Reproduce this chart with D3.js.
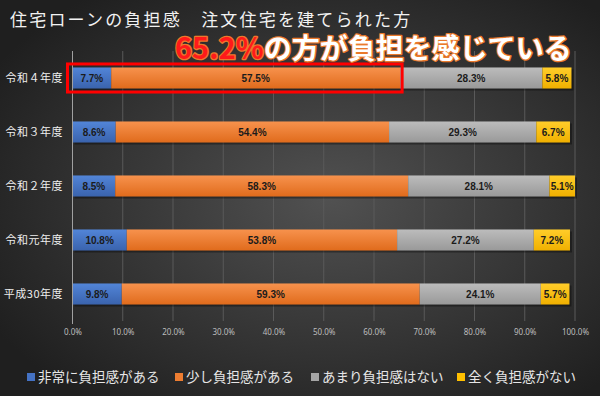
<!DOCTYPE html>
<html>
<head>
<meta charset="utf-8">
<script src="https://cdn.jsdelivr.net/npm/d3@7"></script>
<style>
  body { margin: 0; background: #222; }
  text { font-family: "Noto Sans CJK JP", "Noto Sans", sans-serif; }
</style>
</head>
<body>
<div id="chart"></div>
<script>
// data
var categories = ["令和４年度", "令和３年度", "令和２年度", "令和元年度", "平成30年度"];
var seriesNames = ["非常に負担感がある", "少し負担感がある", "あまり負担感はない", "全く負担感がない"];
var veryBurden   = [7.7, 8.6, 8.5, 10.8, 9.8];
var someBurden   = [57.5, 54.4, 58.3, 53.8, 59.3];
var littleBurden = [28.3, 29.3, 28.1, 27.2, 24.1];
var noBurden     = [5.8, 6.7, 5.1, 7.2, 5.7];
var xTicks = [0, 10, 20, 30, 40, 50, 60, 70, 80, 90, 100];
var titleText = "住宅ローンの負担感　注文住宅を建てられた方";
var headlineSuffix = "の方が負担を感じている";

var width = 600, height = 396;
var colors = ["#4472c4", "#ed7d31", "#a5a5a5", "#ffc000"];
var colorsLight = ["#5285d8", "#f7924d", "#bcbcbc", "#ffcd2a"];
var colorsDark = ["#3a63ad", "#e06b1c", "#999999", "#f0b000"];

var svg = d3.select("#chart").append("svg")
  .attr("width", width)
  .attr("height", height);

var defs = svg.append("defs");
var bg = defs.append("radialGradient").attr("id", "bg")
  .attr("cx", "55%").attr("cy", "50%").attr("r", "65%");
bg.append("stop").attr("offset", "0%").attr("stop-color", "#515151");
bg.append("stop").attr("offset", "100%").attr("stop-color", "#1f1f1f");

colors.forEach(function(c, i) {
  var g = defs.append("linearGradient").attr("id", "bar" + i)
    .attr("x1", 0).attr("y1", 0).attr("x2", 0).attr("y2", 1);
  g.append("stop").attr("offset", "0%").attr("stop-color", colorsLight[i]);
  g.append("stop").attr("offset", "100%").attr("stop-color", colorsDark[i]);
});

svg.append("rect")
  .attr("width", width).attr("height", height)
  .attr("fill", "url(#bg)");

// title
svg.append("text")
  .attr("x", 10).attr("y", 26)
  .attr("fill", "#f2f2f2")
  .attr("font-size", 17)
  .attr("letter-spacing", 2.2)
  .text(titleText);

var x = d3.scaleLinear().domain([0, 100]).range([72.5, 575]);
var y = d3.scaleBand().domain(categories)
  .range([51, 321]).paddingInner(0.61).paddingOuter(0.305);

// gridlines
svg.append("g").selectAll("line")
  .data(xTicks.slice(1))
  .join("line")
  .attr("x1", function(d) { return x(d); })
  .attr("x2", function(d) { return x(d); })
  .attr("y1", 51).attr("y2", 321)
  .attr("stroke", "#5a5a5a").attr("stroke-width", 1);

// x axis labels
var xAxis = svg.append("g")
  .attr("transform", "translate(0,321)")
  .call(d3.axisBottom(x).tickValues(xTicks)
    .tickFormat(function(d) { return d.toFixed(1) + "%"; })
    .tickSize(0).tickPadding(8));
xAxis.select(".domain").remove();
xAxis.selectAll("text")
  .attr("fill", "#bdbdbd")
  .attr("font-size", 8)
  .style("font-family", "'Noto Sans', sans-serif");

// stacked data
var rows = categories.map(function(c, i) {
  return { cat: c, v0: veryBurden[i], v1: someBurden[i], v2: littleBurden[i], v3: noBurden[i] };
});
var stack = d3.stack().keys(["v0", "v1", "v2", "v3"]);
var series = stack(rows);

// shadows
svg.append("g").selectAll("rect")
  .data(rows)
  .join("rect")
  .attr("x", x(0) + 2)
  .attr("y", function(d) { return y(d.cat) + 2; })
  .attr("width", function(d) { return x(d.v0 + d.v1 + d.v2 + d.v3) - x(0); })
  .attr("height", y.bandwidth())
  .attr("fill", "#000").attr("opacity", 0.35);

var layers = svg.append("g").selectAll("g")
  .data(series)
  .join("g")
  .attr("fill", function(d, i) { return "url(#bar" + i + ")"; });

layers.selectAll("rect")
  .data(function(d) { return d; })
  .join("rect")
  .attr("x", function(d) { return x(d[0]); })
  .attr("y", function(d) { return y(d.data.cat); })
  .attr("width", function(d) { return x(d[1]) - x(d[0]); })
  .attr("height", y.bandwidth());

// value labels
layers.selectAll("text")
  .data(function(d) { return d; })
  .join("text")
  .attr("x", function(d) { return (x(d[0]) + x(d[1])) / 2; })
  .attr("y", function(d) { return y(d.data.cat) + y.bandwidth() / 2 + 3.5; })
  .attr("text-anchor", "middle")
  .attr("fill", "#1b1b1b")
  .attr("font-size", 10)
  .attr("font-weight", "bold")
  .style("font-family", "'Liberation Sans', sans-serif")
  .text(function(d) { return (d[1] - d[0]).toFixed(1) + "%"; });

// axis line at 0
svg.append("line")
  .attr("x1", x(0)).attr("x2", x(0))
  .attr("y1", 51).attr("y2", 324)
  .attr("stroke", "#a0a0a0").attr("stroke-width", 1);

// category labels
svg.append("g").selectAll("text")
  .data(categories)
  .join("text")
  .attr("x", 63)
  .attr("y", function(d) { return y(d) + y.bandwidth() / 2 + 4; })
  .attr("text-anchor", "end")
  .attr("fill", "#eeeeee")
  .attr("font-size", 11)
  .attr("letter-spacing", 0.5)
  .text(function(d) { return d; });

// highlight box on latest year (first two series)
var highlight = veryBurden[0] + someBurden[0];
svg.append("rect")
  .attr("x", x(0) - 5)
  .attr("y", y(categories[0]) - 3.5)
  .attr("width", x(highlight) - x(0) + 7)
  .attr("height", y.bandwidth() + 7)
  .attr("fill", "none")
  .attr("stroke", "#ff0000")
  .attr("stroke-width", 3);

// headline
var head = svg.append("text")
  .attr("x", 175).attr("y", 59)
  .attr("font-size", 28)
  .attr("font-weight", "bold")
  .attr("stroke", "#ea7a2c")
  .attr("stroke-width", 2.5)
  .attr("paint-order", "stroke")
  .attr("stroke-linejoin", "round");
head.append("tspan").attr("fill", "#ff1a1a").attr("font-size", 29)
  .text(highlight.toFixed(1) + "%");
head.append("tspan").attr("fill", "#ffffff").text(headlineSuffix);

// legend
var legendX = [27, 175, 311, 457];
var legend = svg.append("g").selectAll("g")
  .data(seriesNames)
  .join("g")
  .attr("transform", function(d, i) { return "translate(" + legendX[i] + ",377)"; });
legend.append("rect")
  .attr("x", 0).attr("y", -4).attr("width", 8).attr("height", 8)
  .attr("fill", function(d, i) { return colors[i]; });
legend.append("text")
  .attr("x", 11).attr("y", 5)
  .attr("fill", "#e6e6e6")
  .attr("font-size", 13.5)
  .text(function(d) { return d; });
</script>
</body>
</html>
